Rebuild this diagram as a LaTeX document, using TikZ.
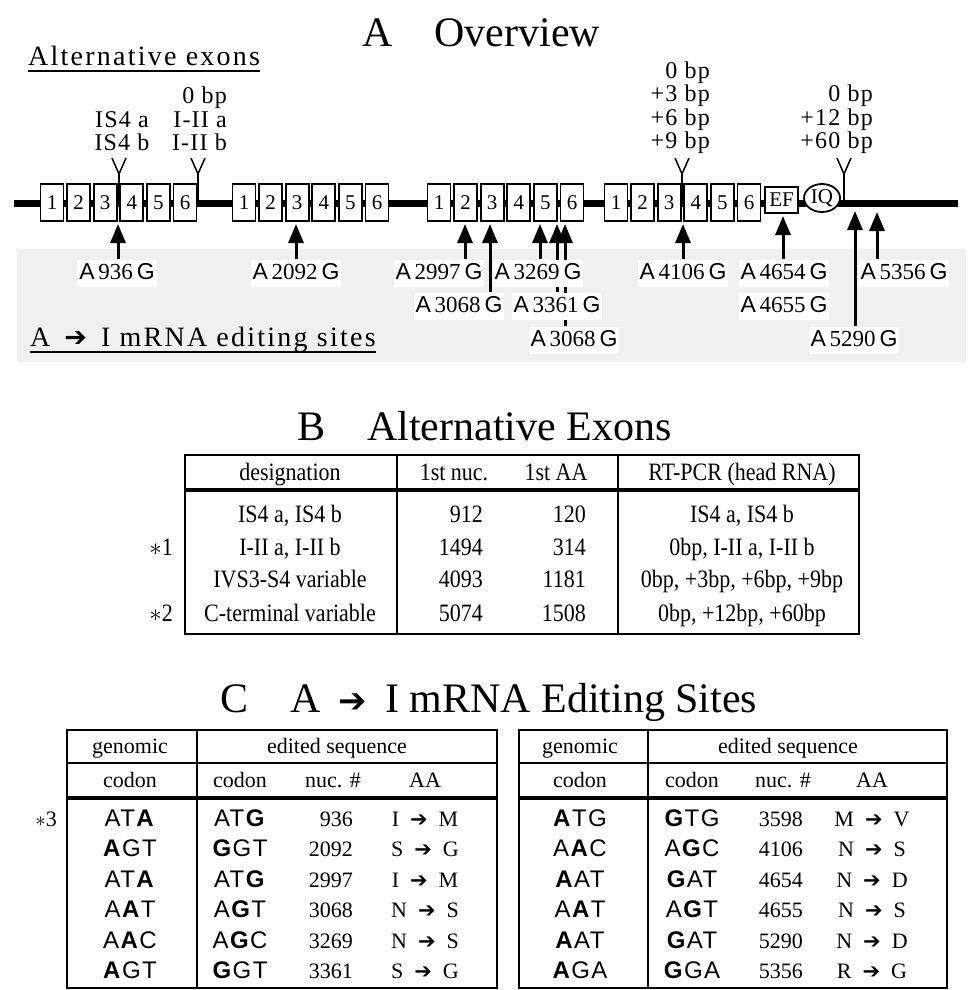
\documentclass[tikz,border=0pt]{standalone}
\usepackage{fontspec}
\setmainfont{Liberation Serif}
\newfontfamily\sitefont{Liberation Sans}
\newfontfamily\codonfont[LetterSpace=6]{Liberation Sans}
\newfontfamily\spacedfont[LetterSpace=8]{Liberation Serif}
\newfontfamily\vlabfont[LetterSpace=5]{Liberation Serif}
\newfontfamily\narrowfont[FakeStretch=0.88]{Liberation Serif}
\newfontfamily\dingfont{DejaVu Sans}
\usepackage{tikz}
\usetikzlibrary{positioning,arrows.meta,shapes.geometric,backgrounds}
\newcommand{\fsz}[1]{\fontsize{#1}{#1}\selectfont}
\newcommand{\site}[1]{{\sitefont A}\,#1\,{\sitefont G}}
\newcommand{\editarrow}{{\dingfont\fsz{21}➔}}
\newcommand{\chg}[2]{#1\enspace\editarrow\enspace#2}

\begin{document}
\begin{tikzpicture}[x=1pt, y=-1pt,
  exon/.style={draw, line width=1.8pt, fill=white, minimum width=23pt, minimum height=37pt, inner sep=0pt, font=\fsz{21}},
  vlab/.style={align=#1, inner sep=0pt, font=\vlabfont\fontsize{24}{23.5}\selectfont},
  vmark/.style={line width=1.5pt},
  site/.style={fill=white, inner xsep=2pt, inner ysep=3pt, text height=17pt, text depth=4pt, font=\fsz{23}},
  edit/.style={line width=3pt, -{Triangle[length=19pt, width=15pt]}},
  head/.style={inner sep=0pt, anchor=base west, font=\fsz{42}},
  sub/.style={inner sep=0pt, anchor=base west, font=\spacedfont\fsz{28}},
  bcell/.style={inner sep=0pt, anchor=base, font=\narrowfont\fsz{25}},
  cell/.style={inner sep=0pt, anchor=base, font=\fsz{22}},
  codon/.style={inner sep=0pt, anchor=base, font=\codonfont\fsz{24}},
  tbl/.style={line width=2.2pt}]
\useasboundingbox (0,0) rectangle (968,990);

% A: overview
\node[head] (ttlA) at (362,47) {A\quad Overview};
\node[sub] (altex) at (28,66) {Alternative exons};
\draw[line width=1.3pt] ([yshift=-5pt]altex.base west) -- ([yshift=-5pt]altex.base east);

\draw[line width=7pt] (14,203) -- (958,203);
\foreach \g/\x in {1/52, 2/244, 3/439, 4/616}
  \foreach \i in {1,...,6}
    \node[exon] (e\g\i) at ({\x+(\i-1)*26.6},202.5) {\i};
\node[exon, minimum width=33pt, minimum height=26pt, font=\fsz{21}] (ef) at (781.5,200) {EF};
\node[exon, ellipse, minimum width=36pt, minimum height=28pt, font=\fsz{21}] (iq) at (822,198) {IQ};

% alternative exon marks
\foreach \n/\x in {v1/119, v2/198, v3/682, v4/844} {
  \coordinate (\n) at (\x,174);
  \draw[vmark] (\n) ++(-7,-16) -- (\n) -- ++(7,-16);
  \draw[vmark] (\n) -- ++(0,29);
}
\node[vlab=center, anchor=south] (lv1) at (122,158) {IS4 a\\IS4 b\strut};
\node[vlab=right, anchor=south east] (lv2) at (227,158) {0 bp\\I-II a\\I-II b\strut};
\node[vlab=right, anchor=south east] (lv3) at (710,156) {0 bp\\+3 bp\\+6 bp\\+9 bp\strut};
\node[vlab=right, anchor=south east] (lv4) at (873,156) {0 bp\\+12 bp\\+60 bp\strut};

% editing sites
\foreach \n/\x/\y/\num in {s936/117/273/936, s2092/296/273/2092, s2997/439/273/2997,
    s3269/538/273/3269, s4106/683/273/4106, s4654/784/273/4654, s5356/904/273/5356,
    s3068/459/306/3068, s3361/557/306/3361, s4655/784/306/4655,
    s3068b/574/340/3068, s5290/854/340/5290}
  \node[site] (\n) at (\x,\y) {\site{\num}};
\foreach \n/\x/\y in {t936/118/224, t2092/296/224, t2997/465/224, t3068/490/224,
    t3269/540/224, t3361/557/224, t3068b/565/224, t4106/683/224,
    t4654/783/216, t5290/855/211, t5356/877/212}
  \coordinate (\n) at (\x,\y);
\node[sub] (edttl) at (30,346) {A\enspace{\dingfont\fsz{27}➔}\enspace I mRNA editing sites};
\draw[line width=1.3pt] ([yshift=-6pt]edttl.base west) -- ([yshift=-6pt]edttl.base east);
\begin{scope}[on background layer]
  \fill[gray!12] (17,249) rectangle (966,362);
  \foreach \s/\t in {s936/t936, s2092/t2092, s2997/t2997, s3068/t3068, s3269/t3269,
      s3361/t3361, s3068b/t3068b, s4106/t4106, s4654/t4654, s5290/t5290, s5356/t5356}
    \draw[edit] (\t |- \s.north) -- (\t);
\end{scope}

% B: alternative exons
\node[head] (ttlB) at (297,440) {B\quad Alternative Exons};
\draw[tbl] (185,455) rectangle (859,634);
\draw[tbl] (397,455) -- (397,634) (618,455) -- (618,634);
\draw[line width=3.2pt] (185,490) -- (859,490);
\node[bcell] (bh1) at (290,480) {designation};
\node[bcell] (bh2) at (454,480) {1st nuc.};
\node[bcell] (bh3) at (556,480) {1st AA};
\node[bcell] (bh4) at (742,480) {RT-PCR (head RNA)};
\foreach \y/\d/\n/\a/\r in {522/{IS4 a, IS4 b}/912/120/{IS4 a, IS4 b},
    555/{I-II a, I-II b}/1494/314/{0bp, I-II a, I-II b},
    587/{IVS3-S4 variable}/4093/1181/{0bp, +3bp, +6bp, +9bp},
    621/{C-terminal variable}/5074/1508/{0bp, +12bp, +60bp}} {
  \node[bcell] (bd\y) at (290,\y) {\d};
  \node[bcell, anchor=base east] (bn\y) at (483,\y) {\n};
  \node[bcell, anchor=base east] (ba\y) at (586,\y) {\a};
  \node[bcell] (br\y) at (742,\y) {\r};
}
\node[bcell, anchor=base east] (ast1) at (173,555) {$\ast$1};
\node[bcell, anchor=base east] (ast2) at (173,621) {$\ast$2};

% C: editing sites
\node[head] (ttlC) at (220,712) {C\quad A\hspace{18pt}{\dingfont\fsz{34}➔}\hspace{18pt}I mRNA Editing Sites};
\foreach \l/\m/\r in {67/197/497, 519/648/947} {
  \draw[tbl] (\l,730) rectangle (\r,988);
  \draw[tbl] (\m,730) -- (\m,988);
  \draw[line width=2.6pt] (\l,763) -- (\r,763);
  \draw[line width=3.2pt] (\l,798) -- (\r,798);
}
\node[cell] (lh1) at (130,753) {genomic};
\node[cell] (lh2) at (337,753) {edited sequence};
\node[cell] (lh3) at (130,787) {codon};
\node[cell] (lh4) at (240,787) {codon};
\node[cell] (lh5) at (333,787) {nuc. \#};
\node[cell] (lh6) at (425,787) {AA};
\node[cell] (rh1) at (580,753) {genomic};
\node[cell] (rh2) at (788,753) {edited sequence};
\node[cell] (rh3) at (580,787) {codon};
\node[cell] (rh4) at (692,787) {codon};
\node[cell] (rh5) at (783,787) {nuc. \#};
\node[cell] (rh6) at (872,787) {AA};
\foreach \y/\g/\e/\n/\a in {826/{AT\textbf{A}}/{AT\textbf{G}}/936/{\chg{I}{M}},
    856/{\textbf{A}GT}/{\textbf{G}GT}/2092/{\chg{S}{G}},
    887/{AT\textbf{A}}/{AT\textbf{G}}/2997/{\chg{I}{M}},
    917/{A\textbf{A}T}/{A\textbf{G}T}/3068/{\chg{N}{S}},
    948/{A\textbf{A}C}/{A\textbf{G}C}/3269/{\chg{N}{S}},
    978/{\textbf{A}GT}/{\textbf{G}GT}/3361/{\chg{S}{G}}} {
  \node[codon] (lg\y) at (130,\y) {\g};
  \node[codon] (le\y) at (240,\y) {\e};
  \node[cell, anchor=base east] (ln\y) at (353,\y) {\n};
  \node[cell] (la\y) at (425,\y) {\a};
}
\foreach \y/\g/\e/\n/\a in {826/{\textbf{A}TG}/{\textbf{G}TG}/3598/{\chg{M}{V}},
    856/{A\textbf{A}C}/{A\textbf{G}C}/4106/{\chg{N}{S}},
    887/{\textbf{A}AT}/{\textbf{G}AT}/4654/{\chg{N}{D}},
    917/{A\textbf{A}T}/{A\textbf{G}T}/4655/{\chg{N}{S}},
    948/{\textbf{A}AT}/{\textbf{G}AT}/5290/{\chg{N}{D}},
    978/{\textbf{A}GA}/{\textbf{G}GA}/5356/{\chg{R}{G}}} {
  \node[codon] (rg\y) at (580,\y) {\g};
  \node[codon] (re\y) at (692,\y) {\e};
  \node[cell, anchor=base east] (rn\y) at (803,\y) {\n};
  \node[cell] (ra\y) at (872,\y) {\a};
}
\node[cell, anchor=base east] (ast3) at (57,826) {$\ast$3};
\end{tikzpicture}
\end{document}
